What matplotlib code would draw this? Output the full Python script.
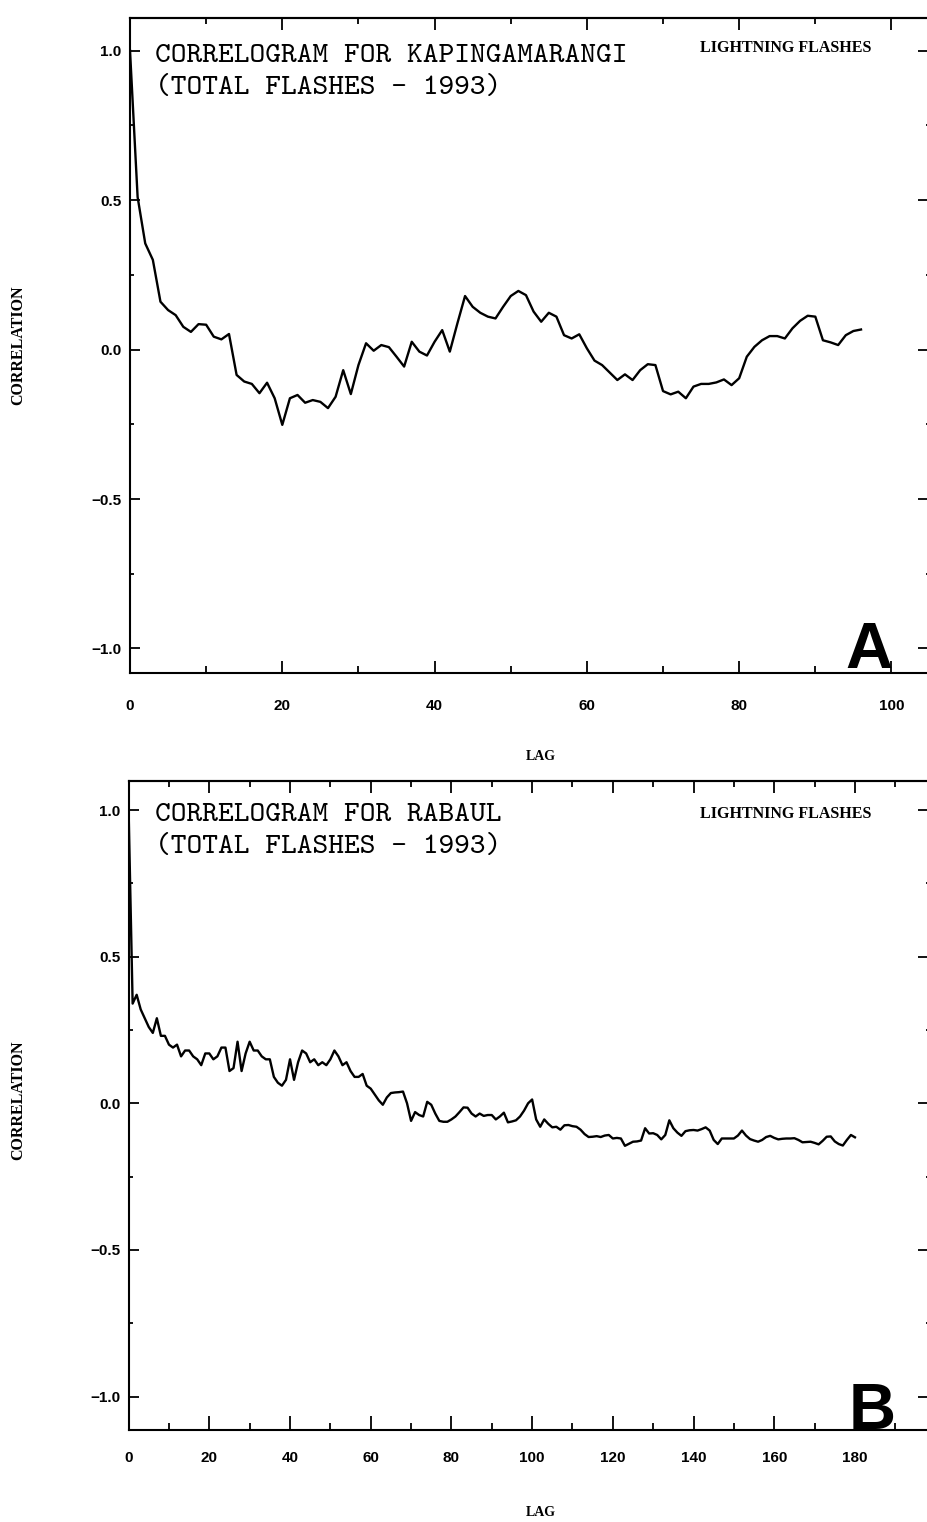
import matplotlib
matplotlib.use("Agg")
import matplotlib.pyplot as plt
from matplotlib.ticker import MultipleLocator

# ---------------- data ----------------
lags_a = list(range(0, 97))
corr_a = [1.00, 0.51, 0.355, 0.30, 0.16, 0.132, 0.115, 0.076, 0.059, 0.085,
          0.083, 0.043, 0.034, 0.052, -0.085, -0.107, -0.115, -0.146, -0.111, -0.163,
          -0.252, -0.163, -0.152, -0.178, -0.169, -0.175, -0.196, -0.158, -0.069, -0.149,
          -0.052, 0.021, -0.004, 0.015, 0.008, -0.024, -0.057, 0.026, -0.007, -0.020,
          0.026, 0.065, -0.007, 0.088, 0.179, 0.143, 0.123, 0.110, 0.104, 0.143,
          0.179, 0.196, 0.182, 0.127, 0.093, 0.123, 0.110, 0.048, 0.037, 0.051,
          0.004, -0.037, -0.052, -0.077, -0.102, -0.083, -0.102, -0.069, -0.049, -0.052,
          -0.139, -0.150, -0.141, -0.163, -0.124, -0.115, -0.115, -0.110, -0.100, -0.119,
          -0.096, -0.024, 0.009, 0.031, 0.045, 0.045, 0.037, 0.071, 0.096, 0.113,
          0.110, 0.031, 0.024, 0.015, 0.048, 0.062, 0.067]

lags_b = list(range(0, 181))
corr_b = [1.00, 0.34, 0.37, 0.32, 0.29, 0.26, 0.24, 0.29, 0.23, 0.23,
          0.20, 0.19, 0.20, 0.16, 0.18, 0.18, 0.16, 0.15, 0.13, 0.17,
          0.17, 0.15, 0.16, 0.19, 0.19, 0.11, 0.12, 0.21, 0.11, 0.17,
          0.21, 0.18, 0.18, 0.16, 0.15, 0.15, 0.09, 0.07, 0.06, 0.08,
          0.15, 0.08, 0.14, 0.18, 0.17, 0.14, 0.15, 0.13, 0.14, 0.13,
          0.15, 0.18, 0.16, 0.13, 0.14, 0.11, 0.09, 0.09, 0.10, 0.06,
          0.05, 0.03, 0.01, -0.005, 0.02, 0.035, 0.037, 0.038, 0.04, 0.00,
          -0.06, -0.03, -0.04, -0.045, 0.005, -0.005, -0.035, -0.06, -0.063, -0.063,
          -0.055, -0.045, -0.03, -0.014, -0.015, -0.035, -0.045, -0.035, -0.043, -0.04,
          -0.04, -0.055, -0.045, -0.032, -0.065, -0.062, -0.058, -0.045, -0.025, 0.0,
          0.013, -0.055, -0.08, -0.055, -0.07, -0.082, -0.08, -0.09, -0.075, -0.074,
          -0.078, -0.08, -0.09, -0.105, -0.115, -0.114, -0.112, -0.115, -0.11, -0.108,
          -0.12, -0.118, -0.12, -0.145, -0.138, -0.131, -0.13, -0.127, -0.085, -0.103,
          -0.102, -0.108, -0.123, -0.108, -0.058, -0.085, -0.10, -0.111, -0.095, -0.092,
          -0.091, -0.093, -0.088, -0.082, -0.093, -0.125, -0.139, -0.12, -0.12, -0.12,
          -0.12, -0.11, -0.093, -0.11, -0.122, -0.127, -0.131, -0.125, -0.115, -0.111,
          -0.118, -0.123, -0.121, -0.12, -0.12, -0.119, -0.125, -0.133, -0.132, -0.131,
          -0.135, -0.14, -0.128, -0.114, -0.113, -0.13, -0.139, -0.144, -0.125, -0.108,
          -0.116]

ytick_vals = [-1.0, -0.5, 0.0, 0.5, 1.0]
ytick_labels = ["\u22121.0", "\u22120.5", "0.0", "0.5", "1.0"]
xticks_a = [0, 20, 40, 60, 80, 100]
xticks_b = [0, 20, 40, 60, 80, 100, 120, 140, 160, 180]

title_a = ["CORRELOGRAM FOR KAPINGAMARANGI", "(TOTAL FLASHES - 1993)"]
title_b = ["CORRELOGRAM FOR RABAUL", "(TOTAL FLASHES - 1993)"]
tag_text = "LIGHTNING FLASHES"
panel_letters = ["A", "B"]

# ---------------- figure ----------------
W, H = 928, 1522
fig = plt.figure(figsize=(W / 100, H / 100), dpi=100)

tickfont = ["Liberation Sans Narrow", "Liberation Sans", "DejaVu Sans"]
seriffont = ["Liberation Serif", "DejaVu Serif"]
monofont = ["cmtt10", "Liberation Mono", "DejaVu Sans Mono"]


def px_axes(left, top, right, bottom):
    return fig.add_axes([left / W, 1 - bottom / H, (right - left) / W, (bottom - top) / H])


def setup(ax, xlim, ylim, xticks, xpad, bottom_major, bottom_minor):
    ax.set_xlim(*xlim)
    ax.set_ylim(*ylim)
    for s in ax.spines.values():
        s.set_linewidth(1.5)
    ax.xaxis.set_major_locator(plt.FixedLocator(xticks))
    ax.xaxis.set_minor_locator(MultipleLocator(10))
    ax.yaxis.set_major_locator(plt.FixedLocator(ytick_vals))
    ax.yaxis.set_minor_locator(MultipleLocator(0.25))
    ax.set_xticklabels([str(v) for v in xticks])
    ax.set_yticklabels(ytick_labels)
    ax.tick_params(axis="x", which="major", direction="in", length=bottom_major, width=1.3, pad=xpad)
    ax.tick_params(axis="x", which="minor", direction="in", length=bottom_minor, width=1.3)
    ax.tick_params(axis="y", which="major", direction="in", length=7.5, width=1.3, pad=6)
    ax.tick_params(axis="y", which="minor", direction="in", length=3, width=1.3)
    for lab in ax.get_xticklabels() + ax.get_yticklabels():
        lab.set_family(tickfont)
        lab.set_fontweight("bold")
        lab.set_fontsize(11)
    sx = ax.secondary_xaxis("top")
    sx.xaxis.set_major_locator(plt.FixedLocator(xticks))
    sx.xaxis.set_minor_locator(MultipleLocator(10))
    sx.tick_params(axis="x", which="major", direction="in", length=8.5, width=1.3, labeltop=False)
    sx.tick_params(axis="x", which="minor", direction="in", length=4.5, width=1.3)
    sx.spines["top"].set_linewidth(1.5)
    sy = ax.secondary_yaxis("right")
    sy.yaxis.set_major_locator(plt.FixedLocator(ytick_vals))
    sy.yaxis.set_minor_locator(MultipleLocator(0.25))
    sy.tick_params(axis="y", which="major", direction="in", length=8.5, width=1.3, labelright=False)
    sy.tick_params(axis="y", which="minor", direction="in", length=3, width=1.3)


# Panel A
axA = px_axes(130, 18, 930, 673)
axA.plot(lags_a, corr_a, color="black", lw=1.7)
setup(axA, (0, 105.06), (-1.082, 1.109), xticks_a, 19, 9, 5)

# Panel B
axB = px_axes(128.6, 780.7, 930, 1430)
axB.plot(lags_b, corr_b, color="black", lw=1.7)
setup(axB, (0, 198.6), (-1.114, 1.10), xticks_b, 15, 10, 5)


def ftext(x, y, s, **kw):
    return fig.text(x / W, 1 - y / H, s, **kw)


# titles
for (l1, l2), y0 in ((title_a, 62), (title_b, 821)):
    ftext(155, y0, l1, family=monofont, fontsize=21.6, va="baseline", ha="left")
    ftext(155, y0 + 32, l2, family=monofont, fontsize=21.6, va="baseline", ha="left")

ftext(786, 52, tag_text, family=seriffont, fontweight="bold", fontsize=11.5, va="baseline", ha="center")
ftext(786, 818, tag_text, family=seriffont, fontweight="bold", fontsize=11.5, va="baseline", ha="center")

ftext(869, 668, panel_letters[0], family=["Liberation Sans", "DejaVu Sans"], fontweight="bold",
      fontsize=47, va="baseline", ha="center")
ftext(872, 1429, panel_letters[1], family=["Liberation Sans", "DejaVu Sans"], fontweight="bold",
      fontsize=47, va="baseline", ha="center")

# axis labels
ftext(541, 757, "LAG", family=seriffont, fontweight="bold", fontsize=10, va="center", ha="center")
ftext(541, 1512, "LAG", family=seriffont, fontweight="bold", fontsize=10, va="center", ha="center")
ftext(18, 345, "CORRELATION", family=seriffont, fontweight="bold", fontsize=11.5, va="center",
      ha="center", rotation=90)
ftext(18, 1100, "CORRELATION", family=seriffont, fontweight="bold", fontsize=11.5, va="center",
      ha="center", rotation=90)

fig.savefig("out.png", dpi=100, facecolor="white")
